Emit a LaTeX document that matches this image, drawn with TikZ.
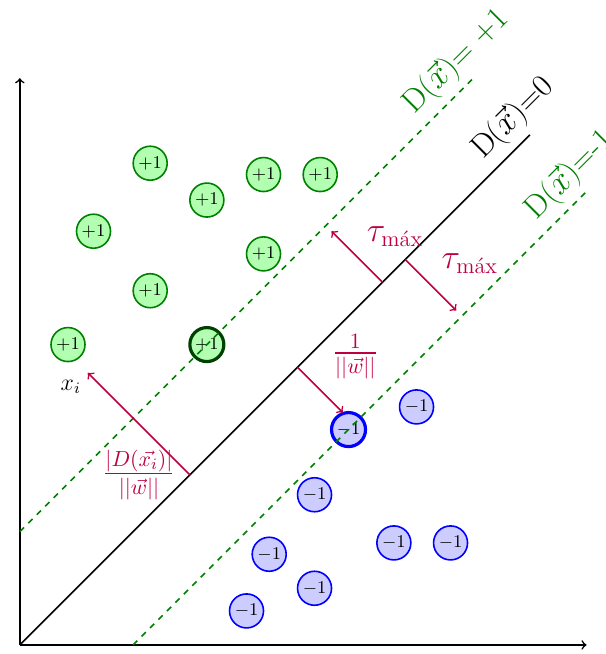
\documentclass[tikz,border=0pt]{standalone}
\usepackage{amsmath}
\usepackage{amssymb}
\usetikzlibrary{arrows,positioning,calc}

\begin{document}
\begin{tikzpicture}[
    posclass/.style={circle, minimum size=0.6cm, inner sep=0pt, draw=green!50!black, thick, fill=green!30, font=\small},
    negclass/.style={circle, minimum size=0.6cm, inner sep=0pt, draw=blue, thick, fill=blue!20, font=\small},
    support/.style={ultra thick},
    margin/.style={dashed, thick, green!50!black},
    hyper/.style={thick, black},
    arrow/.style={->, thick, purple},
    bigtext/.style={font=\fontsize{16}{19}\selectfont}
]
\useasboundingbox (-0.35,-0.16) rectangle (10.33,11.38);

% Class +1
\node (p1) [posclass] at (2.3,8.5) {$+1$};
\node (p2) [posclass] at (3.3,7.85) {$+1$};
\node (p3) [posclass] at (4.3,8.3) {$+1$};
\node (p4) [posclass] at (5.3,8.3) {$+1$};
\node (p5) [posclass] at (1.3,7.3) {$+1$};
\node (p6) [posclass] at (4.3,6.9) {$+1$};
\node (p7) [posclass] at (2.3,6.25) {$+1$};
\node (p8) [posclass] at (0.85,5.3) {$+1$};
\node (sv1) [posclass, support, draw=green!25!black] at (3.3,5.3) {$+1$};

% Class -1
\node (n1) [negclass] at (7.0,4.2) {$-1$};
\node (sv2) [negclass, support] at (5.8,3.8) {$-1$};
\node (n2) [negclass] at (5.2,2.65) {$-1$};
\node (n3) [negclass] at (6.6,1.8) {$-1$};
\node (n4) [negclass] at (7.6,1.8) {$-1$};
\node (n5) [negclass] at (4.4,1.6) {$-1$};
\node (n6) [negclass] at (5.2,1.0) {$-1$};
\node (n7) [negclass] at (4.0,0.6) {$-1$};

% Axes
\coordinate (o) at (0,0);
\coordinate (xmax) at (10,0);
\coordinate (ymax) at (0,10);
\draw [->, thick] (o) -- (xmax);
\draw [->, thick] (o) -- (ymax);

% Hyperplanes
\coordinate (h1) at (9,9);
\coordinate (up0) at (0,2);
\coordinate (up1) at (8,10);
\coordinate (lo0) at (2,0);
\coordinate (lo1) at (10,8);
\draw [hyper] (o) -- (h1) node [pos=1, sloped, above, bigtext] (lblzero) {D($\vec{x}$)=0};
\draw [margin] (up0) -- (up1) node [pos=1, sloped, above, bigtext] (lblplus) {D($\vec{x}$)= +1};
\draw [margin] (lo0) -- (lo1) node [pos=1, sloped, above, bigtext] (lblminus) {D($\vec{x}$)=-1};

% Distances
\coordinate (d0) at (3,3);
\coordinate (xi) at (1.2,4.8);
\coordinate (w0) at (4.9,4.9);
\coordinate (w1) at (5.7,4.1);
\coordinate (t0) at (6.4,6.4);
\coordinate (t1) at (5.5,7.3);
\coordinate (s0) at (6.8,6.8);
\coordinate (s1) at (7.7,5.9);
\draw [arrow] (d0) -- (xi);
\draw [arrow] (w0) -- (w1);
\draw [arrow] (t0) -- (t1);
\draw [arrow] (s0) -- (s1);

\node (lblxi) [below left, font=\large] at (xi) {$x_i$};
\node (lbldist) [left=4pt of d0, bigtext, purple] {$\frac{|D(\vec{x_i})|}{||\vec{w}||}$};
\node (lblw) [bigtext, purple] at (5.92,5.09) {$\frac{1}{||\vec{w}||}$};
\node (lbltau1) [bigtext, purple] at (6.62,7.2) {$\tau_{\text{m\'ax}}$};
\node (lbltau2) [bigtext, purple] at (7.94,6.72) {$\tau_{\text{m\'ax}}$};

\end{tikzpicture}
\end{document}
